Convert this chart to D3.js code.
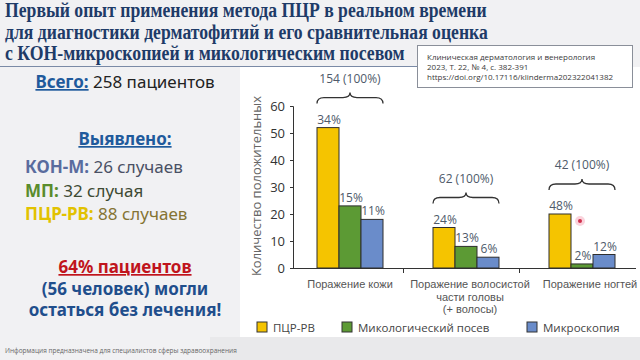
<!DOCTYPE html>
<html>
<head>
<meta charset="utf-8">
<script src="https://cdn.jsdelivr.net/npm/d3@7"></script>
<style>
  html, body { margin: 0; padding: 0; background: #f1f1f3; }
  svg { display: block; }
  .sans { font-family: "Noto Sans", "Open Sans", sans-serif; }
  .chart text { font-family: "Open Sans", "Noto Sans", sans-serif; }
  .chart .cat text { font-family: "Liberation Sans", Arial, sans-serif; }
</style>
</head>
<body>
<div id="slide"></div>
<script>
// data
var categories = ['Поражение кожи', 'Поражение волосистой части головы (+ волосы)', 'Поражение ногтей'];
var categoryLines = [['Поражение кожи'], ['Поражение волосистой', 'части головы', '(+ волосы)'], ['Поражение ногтей']];
var series = ['ПЦР-РВ', 'Микологический посев', 'Микроскопия'];
var pcrValues = [52, 15, 20];
var cultureValues = [23, 8, 1.5];
var microValues = [18, 4, 5];
var pcrPct = ['34%', '24%', '48%'];
var culturePct = ['15%', '13%', '2%'];
var microPct = ['11%', '6%', '12%'];
var totals = ['154 (100%)', '62 (100%)', '42 (100%)'];
var yTicks = [0, 10, 20, 30, 40, 50, 60];

var colors = ['#f5c400', '#5c9a34', '#6a8cca'];

var width = 640, height = 360;

var svg = d3.select('#slide').append('svg')
    .attr('width', width)
    .attr('height', height);

// фон
svg.append('rect').attr('width', width).attr('height', height).attr('fill', '#f1f1f3');
svg.append('rect').attr('x', 210).attr('y', 337).attr('width', 430).attr('height', 23).attr('fill', '#e9e9eb');
svg.append('rect').attr('x', 240).attr('y', 67).attr('width', 400).attr('height', 270).attr('fill', '#ffffff');

// заголовок (шрифт в оригинале уже, поэтому сжимаем по ширине)
var titleLines = [
    'Первый опыт применения метода ПЦР в реальном времени',
    'для диагностики дерматофитий и его сравнительная оценка',
    'с КОН-микроскопией и микологическим посевом'
];
var titleWidths = [482, 483, 400];
svg.append('g').selectAll('text')
    .data(titleLines)
    .enter().append('text')
    .attr('font-family', '"Liberation Serif", "DejaVu Serif", serif')
    .attr('font-weight', 'bold')
    .attr('font-size', 20)
    .attr('fill', '#1e3b68')
    .text(function(d) { return d; })
    .attr('transform', function(d, i) {
        var k = titleWidths[i] / this.getComputedTextLength();
        return 'translate(5,' + (17 + i * 21.5) + ') scale(' + k + ',1)';
    });

svg.append('line').attr('x1', 0).attr('x2', 418).attr('y1', 66.5).attr('y2', 66.5)
    .attr('stroke', '#7a8aa6').attr('stroke-width', 1);

// ссылка
var cite = svg.append('g');
cite.append('rect').attr('x', 417.5).attr('y', 45.5).attr('width', 215).attr('height', 42)
    .attr('fill', '#ffffff').attr('stroke', '#8a8f99');
cite.selectAll('text')
    .data(['Клиническая дерматология и венерология', '2023, Т. 22, № 4, с. 382-391', 'https://doi.org/10.17116/klinderma202322041382'])
    .enter().append('text')
    .attr('x', 427)
    .attr('y', function(d, i) { return 60 + i * 10; })
    .attr('font-family', '"Open Sans", sans-serif')
    .attr('font-size', 8)
    .attr('fill', '#3a3a3a')
    .text(function(d) { return d; });

// левая панель
var left = svg.append('g').attr('class', 'sans').attr('font-size', 17);

var t = left.append('text').attr('x', 125).attr('y', 88).attr('text-anchor', 'middle');
t.append('tspan').text('Всего:').attr('font-weight', 'bold').attr('fill', '#1f5a9c').style('text-decoration', 'underline');
t.append('tspan').text(' 258 пациентов').attr('fill', '#222');

left.append('text').attr('x', 125).attr('y', 145).attr('text-anchor', 'middle')
    .attr('font-weight', 'bold').attr('fill', '#1f5a9c').style('text-decoration', 'underline')
    .text('Выявлено:');

var found = [
    { key: 'КОН-М:', rest: ' 26 случаев', c1: '#5a6c9e', c2: '#4a5064' },
    { key: 'МП:', rest: ' 32 случая', c1: '#5a8c2c', c2: '#3e4a34' },
    { key: 'ПЦР-РВ:', rest: ' 88 случаев', c1: '#e2c200', c2: '#857434' }
];
found.forEach(function(d, i) {
    var tt = left.append('text').attr('x', 25).attr('y', 173 + i * 23.5);
    tt.append('tspan').text(d.key).attr('font-weight', 'bold').attr('fill', d.c1);
    tt.append('tspan').text(d.rest).attr('fill', d.c2);
});

left.append('text').attr('x', 125).attr('y', 273).attr('text-anchor', 'middle')
    .attr('font-weight', 'bold').attr('fill', '#c0141c').style('text-decoration', 'underline')
    .text('64% пациентов');
left.append('text').attr('x', 125).attr('y', 295).attr('text-anchor', 'middle')
    .attr('font-weight', 'bold').attr('fill', '#1f4e8c')
    .text('(56 человек) могли');
left.append('text').attr('x', 125).attr('y', 316).attr('text-anchor', 'middle')
    .attr('font-weight', 'bold').attr('fill', '#1f4e8c')
    .text('остаться без лечения!');

svg.append('text').attr('x', 5).attr('y', 353)
    .attr('font-family', '"Open Sans", sans-serif').attr('font-size', 6.5).attr('fill', '#666')
    .text('Информация предназначена для специалистов сферы здравоохранения');

// график
var chart = svg.append('g').attr('class', 'chart');

var y = d3.scaleLinear().domain([0, 60]).range([268, 106]);
var x0 = d3.scaleBand().domain(categories).range([292, 640]);
var x1 = d3.scaleBand().domain(series).range([0, 66]);
// подписи категорий стоят шире, чем группы столбцов
var xLabel = d3.scaleBand().domain(categories).range([290, 650]);

var yAxis = chart.append('g')
    .attr('transform', 'translate(293,0)')
    .call(d3.axisLeft(y).tickValues(yTicks).tickSize(3).tickPadding(5));
yAxis.select('.domain').attr('stroke', '#333');
yAxis.selectAll('.tick line').attr('stroke', '#333');
yAxis.selectAll('.tick text').attr('font-size', 13).attr('fill', '#333');

// ось X
chart.append('line').attr('x1', 293).attr('x2', 636).attr('y1', 268.5).attr('y2', 268.5)
    .attr('stroke', '#333').attr('stroke-width', 1.2);
chart.selectAll('.xtick')
    .data(categories.slice(1))
    .enter().append('line')
    .attr('class', 'xtick')
    .attr('x1', function(d) { return Math.round(x0(d)) - 4.5; })
    .attr('x2', function(d) { return Math.round(x0(d)) - 4.5; })
    .attr('y1', 268).attr('y2', 273)
    .attr('stroke', '#333');

var rows = categories.map(function(c, i) {
    return {
        cat: c,
        lines: categoryLines[i],
        total: totals[i],
        bars: [
            { s: series[0], v: pcrValues[i], p: pcrPct[i], c: colors[0] },
            { s: series[1], v: cultureValues[i], p: culturePct[i], c: colors[1] },
            { s: series[2], v: microValues[i], p: microPct[i], c: colors[2] }
        ]
    };
});

var group = chart.selectAll('.grp')
    .data(rows)
    .enter().append('g')
    .attr('class', 'grp')
    .attr('transform', function(d) { return 'translate(' + (x0(d.cat) + x0.bandwidth() / 2 - 33) + ',0)'; });

group.selectAll('rect')
    .data(function(d) { return d.bars; })
    .enter().append('rect')
    .attr('x', function(d) { return x1(d.s); })
    .attr('width', x1.bandwidth())
    .attr('y', function(d) { return y(d.v); })
    .attr('height', function(d) { return y(0) - y(d.v); })
    .attr('fill', function(d) { return d.c; })
    .attr('stroke', '#2e2e2e')
    .attr('stroke-width', 1);

group.selectAll('.pct')
    .data(function(d) { return d.bars; })
    .enter().append('text')
    .attr('class', 'pct')
    .attr('x', function(d) { return x1(d.s) + x1.bandwidth() / 2 + 1; })
    .attr('y', function(d) { return y(d.v) - 4; })
    .attr('text-anchor', 'middle')
    .attr('font-size', 12)
    .attr('fill', '#4e5a6a')
    .text(function(d) { return d.p; });

// фигурные скобки
function brace(w, ya) {
    var ym = ya - 6, yp = ya - 11, m = w / 2;
    return 'M0,' + ya + ' Q0,' + ym + ' 7,' + ym + ' L' + (m - 7) + ',' + ym +
        ' Q' + m + ',' + ym + ' ' + m + ',' + yp + ' Q' + m + ',' + ym + ' ' + (m + 7) + ',' + ym +
        ' L' + (w - 7) + ',' + ym + ' Q' + w + ',' + ym + ' ' + w + ',' + ya;
}
group.append('path')
    .attr('d', function(d) { return brace(66, y(d3.max(d.bars, function(b) { return b.v; })) - 24); })
    .attr('fill', 'none')
    .attr('stroke', '#333')
    .attr('stroke-width', 1.3);

group.append('text')
    .attr('x', 33)
    .attr('y', function(d) { return y(d3.max(d.bars, function(b) { return b.v; })) - 45; })
    .attr('text-anchor', 'middle')
    .attr('font-size', 12)
    .attr('fill', '#4e5a6a')
    .text(function(d) { return d.total; });

// подписи категорий, каждая строка отдельным text
var catGroup = chart.selectAll('.cat')
    .data(rows)
    .enter().append('g')
    .attr('class', 'cat')
    .attr('transform', function(d) { return 'translate(' + (xLabel(d.cat) + xLabel.bandwidth() / 2) + ',288)'; });
catGroup.selectAll('text')
    .data(function(d) { return d.lines; })
    .enter().append('text')
    .attr('y', function(d, i) { return i * 12.5; })
    .attr('text-anchor', 'middle')
    .attr('font-size', 11)
    .attr('fill', '#555')
    .text(function(d) { return d; });

// подпись оси Y
chart.append('text')
    .attr('transform', 'translate(261,186) rotate(-90)')
    .attr('text-anchor', 'middle')
    .attr('font-size', 13)
    .attr('fill', '#666')
    .text('Количество положительных');

// легенда
var legendX = [257, 342, 527];
var legend = chart.selectAll('.leg')
    .data(series)
    .enter().append('g')
    .attr('class', 'leg')
    .attr('transform', function(d, i) { return 'translate(' + legendX[i] + ',322)'; });
legend.append('rect')
    .attr('width', 10).attr('height', 10)
    .attr('fill', function(d, i) { return colors[i]; })
    .attr('stroke', '#333');
legend.append('text')
    .attr('x', 16).attr('y', 9.5)
    .attr('font-size', 11.5)
    .attr('fill', '#444')
    .text(function(d) { return d; });

// указатель
svg.append('circle').attr('cx', 580).attr('cy', 221).attr('r', 5).attr('fill', '#f7b6c4').attr('opacity', 0.6);
svg.append('circle').attr('cx', 580).attr('cy', 221).attr('r', 2).attr('fill', '#d0304c');
</script>
</body>
</html>
